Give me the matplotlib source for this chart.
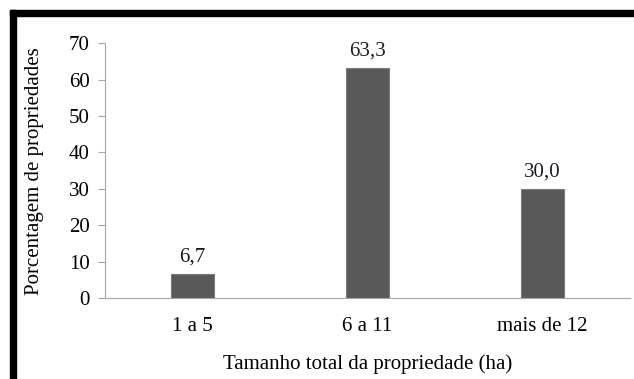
import matplotlib.pyplot as plt
from matplotlib.patches import Rectangle

# property size classes and share of properties (%)
classes = ['1 a 5', '6 a 11', 'mais de 12']
percent = [6.7, 63.3, 30.0]
value_labels = ['6,7', '63,3', '30,0']

plt.rcParams['font.family'] = 'Liberation Serif'
fs = 15

fig = plt.figure(figsize=(6.34, 3.79), dpi=100)
ax = fig.add_axes([0.1656, 0.2137, 0.828, 0.672])

x = range(len(classes))
bars = ax.bar(x, percent, width=0.25, color='#595959', edgecolor='#7a7a7a', linewidth=0.8)

for b, txt in zip(bars, value_labels):
    ax.annotate(txt, (b.get_x() + b.get_width() / 2, b.get_height()),
                xytext=(0, 5), textcoords='offset points',
                ha='center', va='bottom', fontsize=fs, color='#1a1a2a')

ax.set_xlim(-0.5, len(classes) - 0.5)
ax.set_ylim(0, 70)
ax.set_yticks(range(0, 71, 10))
ax.set_xticks(list(x))
ax.set_xticklabels(classes)

for side in ['top', 'right']:
    ax.spines[side].set_visible(False)
ax.spines['left'].set_color('#a6a6a6')
ax.spines['bottom'].set_color('#a6a6a6')
ax.tick_params(axis='y', length=5, color='#a6a6a6', labelsize=fs, pad=6)
ax.tick_params(axis='x', length=0, labelsize=fs, pad=14)

ax.set_ylabel('Porcentagem de propriedades', fontsize=fs, labelpad=18)
ax.set_xlabel('Tamanho total da propriedade (ha)', fontsize=fs, labelpad=13)

# thick black frame on the top and left edges
fig.patches.append(Rectangle((10 / 634, 1 - 16 / 379), 1, 6 / 379,
                             transform=fig.transFigure, color='black'))
fig.patches.append(Rectangle((10 / 634, 0), 6 / 634, 1 - 10 / 379,
                             transform=fig.transFigure, color='black'))

fig.savefig('out.png', dpi=100)
